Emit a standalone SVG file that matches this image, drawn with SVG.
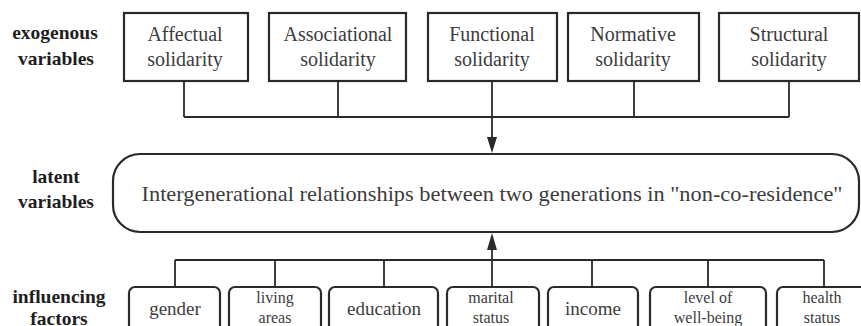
<svg xmlns="http://www.w3.org/2000/svg" width="861" height="326" viewBox="0 0 861 326">
<style>
.box{fill:#fff;stroke:#2a2a2a;stroke-width:2.2}
.t{font-family:'Liberation Serif',Tinos,'Times New Roman','DejaVu Serif',serif;fill:#3c3c3c;text-anchor:middle}
.lab{font-family:'Liberation Serif',Tinos,'Times New Roman','DejaVu Serif',serif;font-weight:bold;font-size:19.5px;fill:#1e1e1e;text-anchor:middle}
.c{fill:none;stroke:#2a2a2a;stroke-width:1.8}
</style>
<rect width="861" height="326" fill="#fff"/>
<g id="labels">
<text class="lab" x="55" y="39">exogenous</text>
<text class="lab" x="56" y="65">variables</text>
<text class="lab" x="56" y="183">latent</text>
<text class="lab" x="56" y="208">variables</text>
<text class="lab" x="59" y="303">influencing</text>
<text class="lab" x="59" y="325">factors</text>
</g>
<g id="connectors">
<path class="c" d="M184,81 V117 M338,81 V117 M634,81 V117 M789,81 V117 M184,117 H789"/>
<path class="c" d="M492,81 V137" stroke-width="2.4"/>
<path d="M492,153 L487,137 L497,137 Z" fill="#2a2a2a"/>
<path class="c" d="M175,287 V260 M275,287 V260 M384,287 V260 M592,287 V260 M708,287 V260 M824,287 V260 M175,260 H824"/>
<path class="c" d="M492,287 V250" stroke-width="2.4"/>
<path d="M492,233 L487,250 L497,250 Z" fill="#2a2a2a"/>
</g>
<g id="affectual">
<rect class="box" x="124" y="13" width="124" height="68"/>
<text class="t" font-size="20" x="185" y="41">Affectual</text>
<text class="t" font-size="20" x="185" y="66">solidarity</text>
</g>
<g id="associational">
<rect class="box" x="269" y="13" width="137" height="68"/>
<text class="t" font-size="20" x="338" y="41">Associational</text>
<text class="t" font-size="20" x="338" y="66">solidarity</text>
</g>
<g id="functional">
<rect class="box" x="428" y="13" width="129" height="68"/>
<text class="t" font-size="20" x="492" y="41">Functional</text>
<text class="t" font-size="20" x="492" y="66">solidarity</text>
</g>
<g id="normative">
<rect class="box" x="568" y="13" width="131" height="68"/>
<text class="t" font-size="20" x="633" y="41">Normative</text>
<text class="t" font-size="20" x="633" y="66">solidarity</text>
</g>
<g id="structural">
<rect class="box" x="719" y="13" width="140" height="68"/>
<text class="t" font-size="20" x="789" y="41">Structural</text>
<text class="t" font-size="20" x="789" y="66">solidarity</text>
</g>
<g id="latent">
<rect class="box" x="113" y="154" width="746" height="78" rx="27" ry="27" stroke-width="2"/>
<text class="t" font-size="22" x="492" y="201" textLength="701" lengthAdjust="spacingAndGlyphs">Intergenerational relationships between two generations in "non-co-residence"</text>
</g>
<g id="gender">
<rect class="box" x="129" y="287" width="91" height="55" rx="6"/>
<text class="t" font-size="19" x="175" y="315">gender</text>
</g>
<g id="living">
<rect class="box" x="229" y="287" width="92" height="55" rx="6"/>
<text class="t" font-size="16" x="275" y="303">living</text>
<text class="t" font-size="16" x="275" y="323">areas</text>
</g>
<g id="education">
<rect class="box" x="329" y="287" width="109" height="55" rx="6"/>
<text class="t" font-size="19" x="384" y="315">education</text>
</g>
<g id="marital">
<rect class="box" x="447" y="287" width="92" height="55" rx="6"/>
<text class="t" font-size="16" x="491" y="303">marital</text>
<text class="t" font-size="16" x="491" y="323">status</text>
</g>
<g id="income">
<rect class="box" x="548" y="287" width="90" height="55" rx="6"/>
<text class="t" font-size="19" x="593" y="315">income</text>
</g>
<g id="wellbeing">
<rect class="box" x="650" y="287" width="116" height="55" rx="6"/>
<text class="t" font-size="16" x="708" y="303">level of</text>
<text class="t" font-size="16" x="708" y="323">well-being</text>
</g>
<g id="health">
<rect class="box" x="777" y="287" width="92" height="55" rx="6"/>
<text class="t" font-size="16" x="822" y="303">health</text>
<text class="t" font-size="16" x="822" y="323">status</text>
</g>
</svg>
